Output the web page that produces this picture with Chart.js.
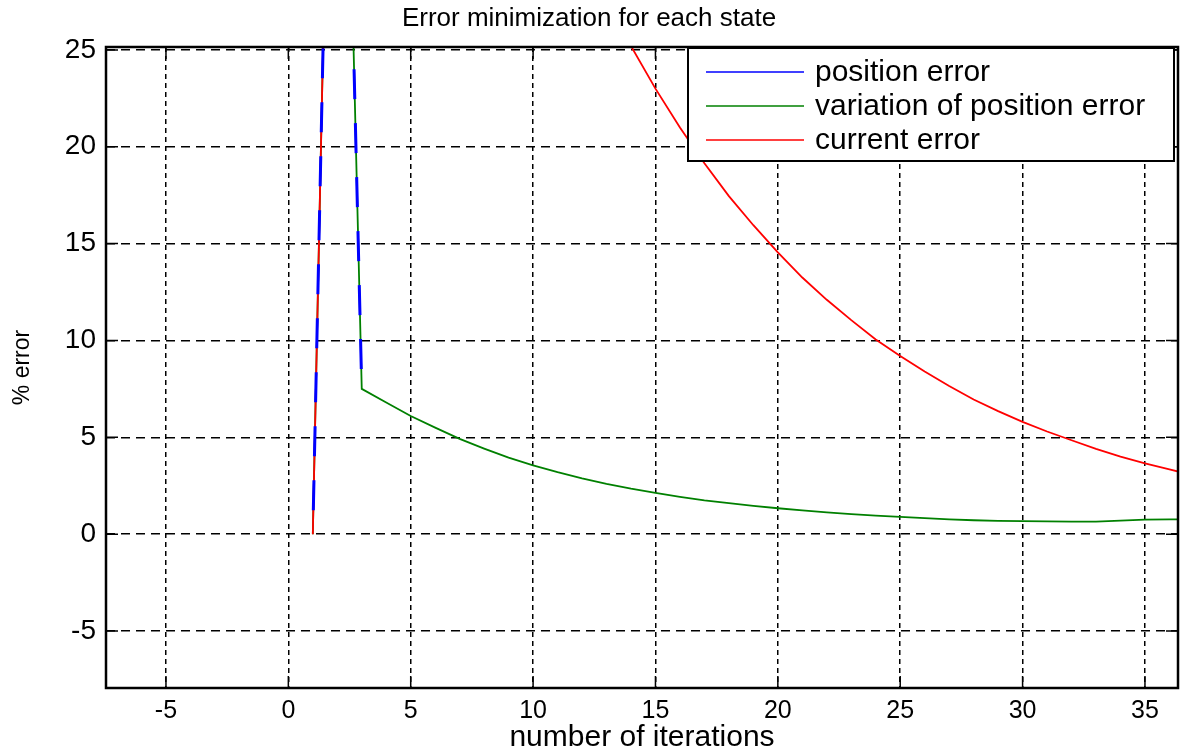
<!DOCTYPE html>
<html>
<head>
<meta charset="utf-8">
<title>Error minimization for each state</title>
<script src="https://cdn.jsdelivr.net/npm/chart.js@4.4.0/dist/chart.umd.min.js"></script>
<style>
  html, body { margin: 0; padding: 0; background: #fff; }
</style>
</head>
<body>
<canvas id="chart" width="1181" height="756"></canvas>
<script>
// tick labels
const xTicks = [-5, 0, 5, 10, 15, 20, 25, 30, 35];
const yTicks = [-5, 0, 5, 10, 15, 20, 25];

// position error (blue) - only the spike, rest sits under the green line
const posIter  = [1, 2, 3];
const posError = [0, 60, 7.5];

// variation of position error (green)
const varIter  = [1, 2, 3, 4, 5, 6, 7, 8, 9, 10, 11, 12, 13, 14, 15, 16, 17, 18, 19, 20,
                  21, 22, 23, 24, 25, 26, 27, 28, 29, 30, 31, 32, 33, 34, 35, 36, 36.4];
const varError = [0, 60, 7.5, 6.8, 6.1, 5.5, 4.92, 4.42, 3.95, 3.55, 3.2, 2.88, 2.6, 2.35, 2.13, 1.93, 1.75, 1.6, 1.46, 1.34,
                  1.23, 1.13, 1.04, 0.96, 0.89, 0.83, 0.77, 0.72, 0.69, 0.67, 0.66, 0.65, 0.65, 0.7, 0.75, 0.76, 0.76];

// current error (red)
const curIter  = [1, 2, 3, 4, 5, 6, 7, 8, 9, 10, 11, 12, 13, 14, 15, 16, 17, 18, 19, 20,
                  21, 22, 23, 24, 25, 26, 27, 28, 29, 30, 31, 32, 33, 34, 35, 36, 36.4];
const curError = [0, 60, 62, 61, 57, 52, 47, 43, 39.5, 36, 33, 30, 27.4, 25.2, 23.0, 21.0, 19.15, 17.45, 15.95, 14.55,
                  13.25, 12.1, 11.05, 10.05, 9.2, 8.4, 7.65, 6.95, 6.35, 5.8, 5.3, 4.85, 4.4, 4.0, 3.65, 3.35, 3.22];

const toPoints = (xs, ys) => xs.map((x, i) => ({x: x, y: ys[i]}));

const FONT = "'Liberation Sans', Arial, sans-serif";

// matlab style box + inward ticks + legend inside the axes
const matlabBox = {
    id: 'matlabBox',
    afterDraw(chart) {
        const {ctx, chartArea: a, scales} = chart;
        ctx.save();
        ctx.strokeStyle = '#000';
        ctx.lineWidth = 1.5;
        const tl = 12;
        ctx.beginPath();
        xTicks.forEach(v => {
            const px = scales.x.getPixelForValue(v);
            ctx.moveTo(px, a.bottom); ctx.lineTo(px, a.bottom - tl);
            ctx.moveTo(px, a.top); ctx.lineTo(px, a.top + tl);
        });
        yTicks.forEach(v => {
            const py = scales.y.getPixelForValue(v);
            ctx.moveTo(a.left, py); ctx.lineTo(a.left + tl, py);
            ctx.moveTo(a.right, py); ctx.lineTo(a.right - tl, py);
        });
        ctx.stroke();
        ctx.lineWidth = 2.5;
        ctx.strokeRect(a.left, a.top, a.right - a.left, a.bottom - a.top);

        // legend
        const lx = 688, ly = a.top + 1, lw = a.right - 4 - lx, lh = 113;
        ctx.fillStyle = '#fff';
        ctx.fillRect(lx, ly, lw, lh);
        ctx.lineWidth = 2;
        ctx.strokeRect(lx, ly, lw, lh);
        ctx.font = '30px ' + FONT;
        ctx.textBaseline = 'middle';
        ctx.textAlign = 'left';
        chart.data.datasets.forEach((ds, i) => {
            const y = ly + 24 + i * 34;
            ctx.strokeStyle = ds.borderColor;
            ctx.lineWidth = 1.5;
            ctx.beginPath();
            ctx.moveTo(lx + 18, y); ctx.lineTo(lx + 116, y);
            ctx.stroke();
            ctx.fillStyle = '#000';
            ctx.fillText(ds.label, lx + 127, y + 1);
        });
        ctx.restore();
    }
};

const ctx = document.querySelector('#chart').getContext('2d');

const chart = new Chart(ctx, {
    type: 'scatter',
    data: {
        datasets: [{
            label: 'position error',
            data: toPoints(posIter, posError),
            borderColor: '#0000ff',
            borderWidth: 3,
            borderDash: [30, 24],
            borderDashOffset: 30,
            order: 0
        }, {
            label: 'variation of position error',
            data: toPoints(varIter, varError),
            borderColor: '#008000',
            borderWidth: 1.8,
            order: 2
        }, {
            label: 'current error',
            data: toPoints(curIter, curError),
            borderColor: '#ff0000',
            borderWidth: 1.8,
            order: 1
        }]
    },
    options: {
        responsive: false,
        animation: false,
        devicePixelRatio: 1,
        layout: {
            padding: {left: 0, right: 3, top: 0, bottom: 0}
        },
        datasets: {
            scatter: {
                showLine: true,
                pointRadius: 0,
                pointHoverRadius: 0,
                tension: 0,
                clip: 0
            }
        },
        scales: {
            x: {
                type: 'linear',
                min: -7.45,
                max: 36.35,
                afterBuildTicks: s => { s.ticks = xTicks.map(v => ({value: v})); },
                afterFit: s => { s.height = 68; },
                grid: {color: '#000', lineWidth: 1.5, drawTicks: false},
                border: {display: false, dash: [5, 4]},
                ticks: {
                    color: '#000',
                    font: {family: FONT, size: 25},
                    padding: 8,
                    maxRotation: 0,
                    autoSkip: false
                },
                title: {
                    display: true,
                    text: 'number of iterations',
                    color: '#000',
                    font: {family: FONT, size: 30},
                    padding: {top: 0, bottom: 0}
                }
            },
            y: {
                type: 'linear',
                min: -7.94,
                max: 25.15,
                afterBuildTicks: s => { s.ticks = yTicks.map(v => ({value: v})); },
                afterFit: s => { s.width = 106; },
                grid: {color: '#000', lineWidth: 1.5, drawTicks: false},
                border: {display: false, dash: [9, 6]},
                ticks: {
                    color: '#000',
                    font: {family: FONT, size: 28},
                    padding: 10
                },
                title: {
                    display: true,
                    text: '% error',
                    color: '#000',
                    font: {family: FONT, size: 23},
                    padding: {top: 9, bottom: 0}
                }
            }
        },
        plugins: {
            legend: {display: false},
            tooltip: {enabled: false},
            title: {
                display: true,
                text: 'Error minimization for each state',
                color: '#000',
                font: {family: FONT, size: 26, weight: 'normal'},
                padding: {top: 3, bottom: 12.8}
            }
        }
    },
    plugins: [matlabBox]
});
</script>
</body>
</html>
